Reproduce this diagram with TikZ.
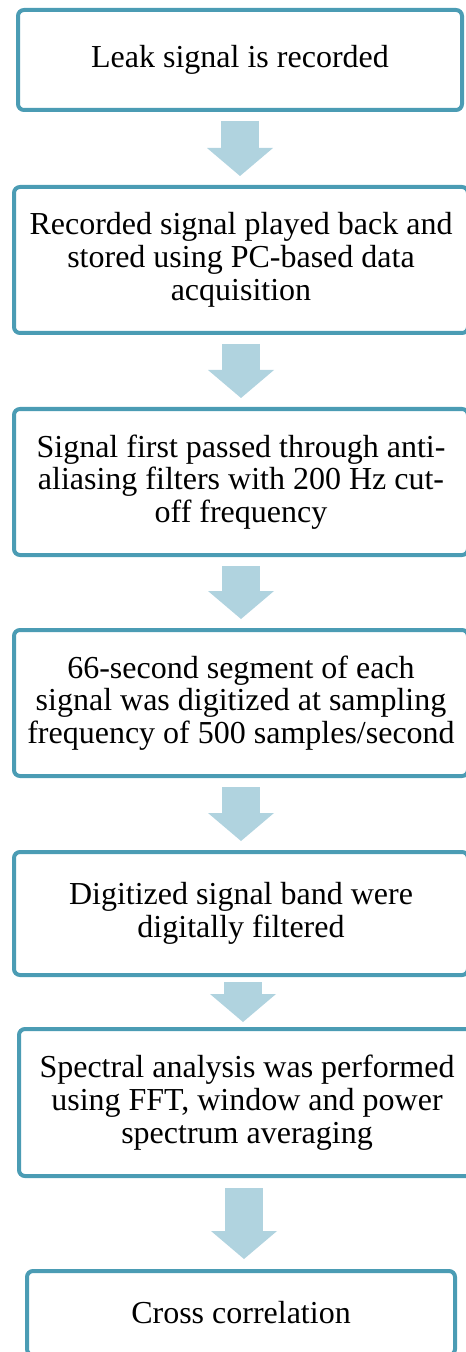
\documentclass[tikz,border=0pt]{standalone}
\usepackage{fontspec}
\setmainfont{Liberation Serif}
\newfontfamily\stagefont{Liberation Serif}
\usepackage{color}
\usetikzlibrary{arrows.meta}
\definecolor{boxline}{RGB}{75,156,180}
\definecolor{arrowfill}{RGB}{176,211,223}
\tikzset{every picture/.style={line width=0.5pt}}
\tikzstyle{stage}=[draw=boxline,line width=2pt,rounded corners=3pt,fill=white,align=center,inner sep=0pt,font=\stagefont\fontsize{16}{16.4}\selectfont]
\tikzstyle{flow}=[color=arrowfill,line width=19pt,-{Triangle[width=33pt,length=14pt,line width=0pt]},shorten <=4.5pt,shorten >=4.5pt]

\begin{document}
\begin{tikzpicture}[x=0.5pt,y=-0.5pt]
\useasboundingbox (0,0) rectangle (465,1352);
\node[stage,minimum width=222pt,minimum height=50pt] (L) at (240,60) {Leak signal is recorded};
\node[stage,minimum width=227pt,minimum height=73pt] (R) at (241,260) {Recorded signal played back and\\stored using PC-based data\\acquisition};
\node[stage,minimum width=227pt,minimum height=73pt] (S) at (241,482) {Signal first passed through anti-\\aliasing filters with 200 Hz cut-\\off frequency};
\node[stage,minimum width=227pt,minimum height=73pt] (D) at (241,703) {66-second segment of each\\signal was digitized at sampling\\frequency of 500 samples/second};
\node[stage,minimum width=227pt,minimum height=61.5pt] (F) at (241,913.5) {Digitized signal band were\\digitally filtered};
\node[stage,minimum width=228pt,minimum height=73.5pt] (P) at (247,1102.5) {Spectral analysis was performed\\using FFT, window and power\\spectrum averaging};
\node[stage,minimum width=214pt,minimum height=42pt] (X) at (241,1313) {Cross correlation};
\path[flow]
(L.south) edge (L.south |- R.north)
(R.south) edge (R.south |- S.north)
(S.south) edge (S.south |- D.north)
(D.south) edge (D.south |- F.north)
([xshift=1pt]F.south) edge[shorten <=2.5pt,shorten >=2.5pt] ([xshift=1pt]F.south |- P.north)
([xshift=-1.5pt]P.south) edge[shorten <=5pt,shorten >=5pt] ([xshift=-1.5pt]P.south |- X.north);
\end{tikzpicture}
\end{document}
